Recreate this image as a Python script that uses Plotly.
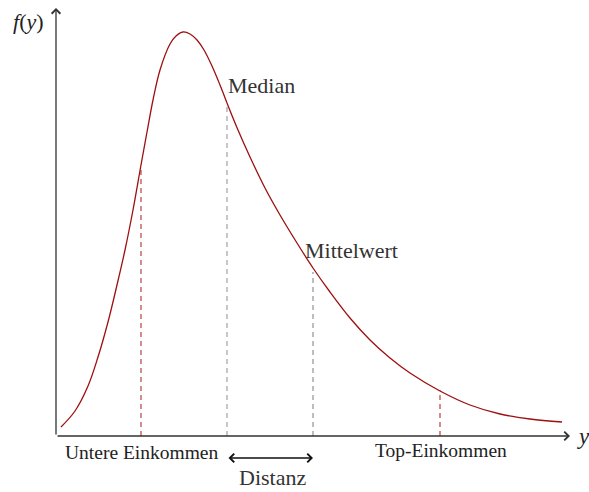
import plotly.graph_objects as go

# Density curve (arbitrary units)
curve_x = [0.5, 1.9, 3.2, 4.2, 5.2, 6.1, 6.9, 7.7, 8.5, 9.1, 9.7, 10.4, 11.4, 12.0, 12.7,
           13.4, 14.1, 14.8, 15.6, 16.4, 17.1, 18.2, 19.4, 20.9, 22.4, 24.1, 25.7, 27.4,
           29.4, 31.4, 33.4, 35.4, 38.4, 41.4, 44.4, 47.4, 50.6]
curve_y = [0.9, 2.5, 5.0, 7.9, 11.4, 15.1, 18.6, 22.6, 27.1, 30.4, 33.6, 36.6, 39.2, 40.0, 40.4,
           40.2, 39.6, 38.6, 37.0, 35.1, 33.3, 30.6, 27.9, 24.8, 22.1, 19.3, 16.8, 14.4,
           11.8, 9.6, 7.8, 6.3, 4.5, 3.1, 2.2, 1.7, 1.4]

# Vertical marker lines: Untere Einkommen, Median, Mittelwert, Top-Einkommen
marker_names = ["Untere Einkommen", "Median", "Mittelwert", "Top-Einkommen"]
marker_x = [8.5, 17.1, 25.7, 38.4]
marker_h = [27.0, 33.3, 16.4, 4.6]
marker_col = ["#b03030", "#999999", "#888888", "#b03030"]

X_MAX = 51.4
Y_MAX = 42.8

FONT = "Liberation Serif"
TXT = "#222222"
AX = "#333333"
RED = "#9e0f0f"

fig = go.Figure()

for xv, hv, c in zip(marker_x, marker_h, marker_col):
    fig.add_trace(go.Scatter(x=[xv, xv], y=[0, hv], mode="lines",
                             line=dict(color=c, width=1.1, dash="5px,4px"),
                             hoverinfo="skip", showlegend=False))

fig.add_trace(go.Scatter(x=curve_x, y=curve_y, mode="lines",
                         line=dict(color=RED, width=1.3, shape="spline", smoothing=1.0),
                         hoverinfo="skip", showlegend=False))

ann = []
# axes with arrows
ann.append(dict(x=X_MAX, y=0, ax=0, ay=0, xref="x", yref="y", axref="x", ayref="y",
                text="", showarrow=True, arrowhead=4, arrowsize=1.3, arrowwidth=1.3,
                arrowcolor=AX, standoff=0, startstandoff=0))
ann.append(dict(x=0, y=Y_MAX, ax=0, ay=0, xref="x", yref="y", axref="x", ayref="y",
                text="", showarrow=True, arrowhead=4, arrowsize=1.3, arrowwidth=1.3,
                arrowcolor=AX, standoff=0, startstandoff=0))
# Distanz arrow between median and mean
ann.append(dict(x=marker_x[2], y=-2.2, ax=marker_x[1], ay=-2.2, xref="x", yref="y",
                axref="x", ayref="y", text="", showarrow=True, arrowhead=4,
                startarrowhead=4, arrowside="end+start", arrowsize=1.3,
                startarrowsize=1.3, arrowwidth=1.3, arrowcolor="#111111",
                standoff=0, startstandoff=0))

def label(x, y, text, size, xanchor="center", color=TXT):
    ann.append(dict(x=x, y=y, xref="x", yref="y", text=text, showarrow=False,
                    xanchor=xanchor, yanchor="middle", borderpad=0,
                    font=dict(family=FONT, size=size, color=color)))

label(-2.8, 41.5, "<i>f</i>(<i>y</i>)", 22)
label(52.7, 0.0, "<i>y</i>", 23)
label(17.1, 35.1, "Median", 22, xanchor="left", color="#333333")
label(24.8, 18.6, "Mittelwert", 22, xanchor="left", color="#333333")
label(marker_x[0], -1.6, "Untere Einkommen", 19.5)
label(marker_x[3] + 0.1, -1.4, "Top-Einkommen", 19.5)
label(21.6, -4.15, "Distanz", 22, color="#333333")

fig.update_layout(
    width=589, height=492,
    margin=dict(l=0, r=0, t=0, b=0),
    paper_bgcolor="white", plot_bgcolor="white",
    xaxis=dict(range=[-5.6, 53.3], visible=False),
    yaxis=dict(range=[-5.6, 43.6], visible=False),
    annotations=ann,
    showlegend=False,
)

fig.write_html("out.html", config={"displayModeBar": False},
               post_script="document.body.style.margin='0px';document.body.style.padding='0px';")
